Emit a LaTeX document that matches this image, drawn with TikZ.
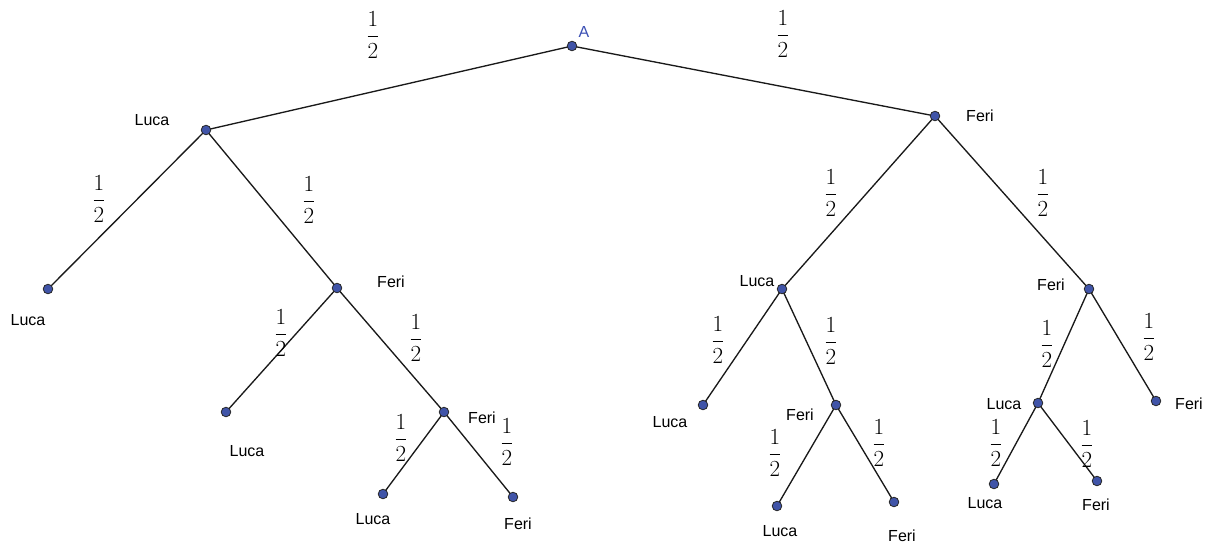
\documentclass[tikz,border=0pt]{standalone}
\usepackage{fontspec}
\setmainfont{Liberation Sans}
\usetikzlibrary{backgrounds}
\definecolor{ptfill}{RGB}{64,84,168}
\definecolor{ptlabel}{RGB}{60,80,180}
\begin{document}
\begin{tikzpicture}[x=0.75pt,y=-0.75pt,
  pt/.style={circle,draw=black!85,fill=ptfill,line width=0.6pt,inner sep=0pt,minimum size=7.2pt},
  edge/.style={draw=black!90,line width=1pt},
  lab/.style={font=\fontsize{12}{14}\selectfont,inner sep=0pt},
  frac/.style={font=\fontsize{16.5}{19}\selectfont,inner sep=0pt}]
\useasboundingbox (0,0) rectangle (1206,544);
% points
\node[pt] (A) at (572,46) {};
\node[pt] (L1) at (206,130) {};
\node[pt] (F1) at (935,116) {};
\node[pt] (LL) at (48,289) {};
\node[pt] (LF) at (337,288) {};
\node[pt] (LFL) at (226,412) {};
\node[pt] (LFF) at (444,412) {};
\node[pt] (LFFL) at (383,494) {};
\node[pt] (LFFF) at (513,497) {};
\node[pt] (FL) at (782,289) {};
\node[pt] (FF) at (1089,289) {};
\node[pt] (FLL) at (703,405) {};
\node[pt] (FLF) at (836,405) {};
\node[pt] (FLFL) at (777,506) {};
\node[pt] (FLFF) at (894,502) {};
\node[pt] (FFL) at (1038,403) {};
\node[pt] (FFF) at (1156,401) {};
\node[pt] (FFLL) at (994,484) {};
\node[pt] (FFLF) at (1097,481) {};
% edges
\begin{scope}[on background layer]
\draw[edge] (A.center) -- (L1.center);
\draw[edge] (A.center) -- (F1.center);
\draw[edge] (L1.center) -- (LL.center);
\draw[edge] (L1.center) -- (LF.center);
\draw[edge] (LF.center) -- (LFL.center);
\draw[edge] (LF.center) -- (LFF.center);
\draw[edge] (LFF.center) -- (LFFL.center);
\draw[edge] (LFF.center) -- (LFFF.center);
\draw[edge] (F1.center) -- (FL.center);
\draw[edge] (F1.center) -- (FF.center);
\draw[edge] (FL.center) -- (FLL.center);
\draw[edge] (FL.center) -- (FLF.center);
\draw[edge] (FLF.center) -- (FLFL.center);
\draw[edge] (FLF.center) -- (FLFF.center);
\draw[edge] (FF.center) -- (FFL.center);
\draw[edge] (FF.center) -- (FFF.center);
\draw[edge] (FFL.center) -- (FFLL.center);
\draw[edge] (FFL.center) -- (FFLF.center);
\end{scope}
% point labels
\node[lab,text=ptlabel] (tA) at (584,32) {A};
\node[lab] (tL1) at (152,120) {Luca};
\node[lab] (tF1) at (980,116) {Feri};
\node[lab] (tLL) at (28,320) {Luca};
\node[lab] (tLF) at (391,282) {Feri};
\node[lab] (tLFL) at (247,451) {Luca};
\node[lab] (tLFF) at (482,418) {Feri};
\node[lab] (tLFFL) at (373,519) {Luca};
\node[lab] (tLFFF) at (518,524) {Feri};
\node[lab] (tFL) at (757,281) {Luca};
\node[lab] (tFF) at (1051,285) {Feri};
\node[lab] (tFLL) at (670,422) {Luca};
\node[lab] (tFLF) at (800,415) {Feri};
\node[lab] (tFLFL) at (780,531) {Luca};
\node[lab] (tFLFF) at (902,536) {Feri};
\node[lab] (tFFL) at (1004,404) {Luca};
\node[lab] (tFFF) at (1189,404) {Feri};
\node[lab] (tFFLL) at (985,503) {Luca};
\node[lab] (tFFLF) at (1096,505) {Feri};
% probabilities
\node[frac] (p1) at (373,35) {$\displaystyle\frac{1}{2}$};
\node[frac] (p2) at (783,34) {$\displaystyle\frac{1}{2}$};
\node[frac] (p3) at (99,199) {$\displaystyle\frac{1}{2}$};
\node[frac] (p4) at (309,200) {$\displaystyle\frac{1}{2}$};
\node[frac] (p5) at (831,193) {$\displaystyle\frac{1}{2}$};
\node[frac] (p6) at (1043,193) {$\displaystyle\frac{1}{2}$};
\node[frac] (p7) at (281,333) {$\displaystyle\frac{1}{2}$};
\node[frac] (p8) at (416,338) {$\displaystyle\frac{1}{2}$};
\node[frac] (p9) at (401,438) {$\displaystyle\frac{1}{2}$};
\node[frac] (p10) at (507,442) {$\displaystyle\frac{1}{2}$};
\node[frac] (p11) at (718,340) {$\displaystyle\frac{1}{2}$};
\node[frac] (p12) at (831,341) {$\displaystyle\frac{1}{2}$};
\node[frac] (p13) at (775,453) {$\displaystyle\frac{1}{2}$};
\node[frac] (p14) at (879,443) {$\displaystyle\frac{1}{2}$};
\node[frac] (p15) at (1047,344) {$\displaystyle\frac{1}{2}$};
\node[frac] (p16) at (1149,337) {$\displaystyle\frac{1}{2}$};
\node[frac] (p17) at (996,443) {$\displaystyle\frac{1}{2}$};
\node[frac] (p18) at (1087,444) {$\displaystyle\frac{1}{2}$};
\end{tikzpicture}
\end{document}
